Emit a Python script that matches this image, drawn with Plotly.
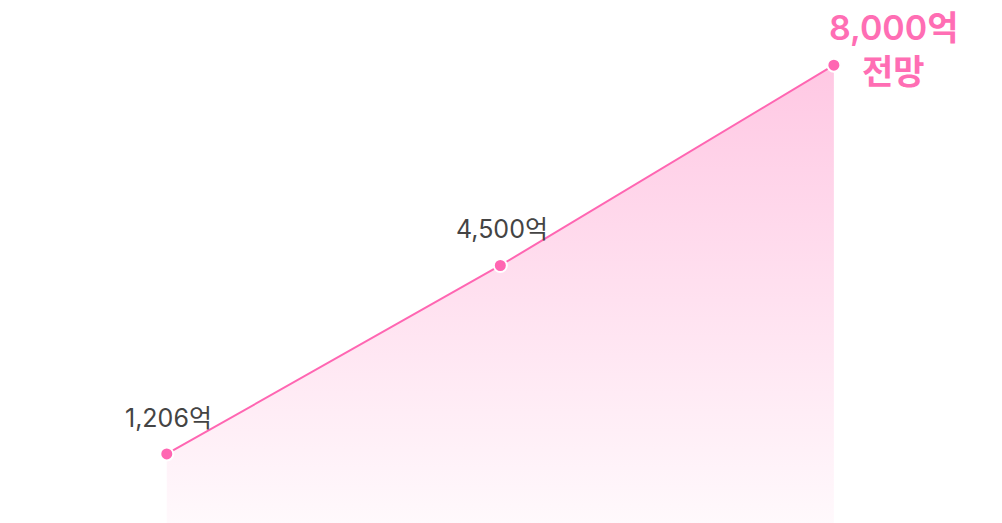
import plotly.graph_objects as go

categories = ["A", "B", "C"]
values = [1206, 4500, 8000]
labels = ["1,206억", "4,500억", "8,000억<br>전망"]

LINE = "#ff66b2"
x = list(range(len(categories)))

fig = go.Figure()
fig.add_trace(go.Scatter(
    x=x, y=values, mode="lines+markers",
    line=dict(color=LINE, width=2),
    marker=dict(size=13, color=LINE, line=dict(color="white", width=2)),
    fill="tozeroy",
    fillgradient=dict(type="vertical",
                      colorscale=[[0, "rgba(255,102,178,0.04)"], [1, "rgba(255,102,178,0.36)"]]),
    hoverinfo="skip",
))

FONT = "Inter, Noto Sans CJK KR"
# gray labels
for i in range(2):
    fig.add_annotation(x=x[i], y=values[i], text=labels[i], showarrow=False,
                       yshift=36, xshift=2, font=dict(family=FONT, size=25, color="#444444"))
# highlighted last label, two lines
lines = labels[2].split("<br>")
for j, (t, ys) in enumerate(zip(lines, [38, -6])):
    fig.add_annotation(x=x[2], y=values[2], text=t, showarrow=False,
                       xanchor="center", xshift=60, yshift=ys,
                       font=dict(family=FONT, size=34, color="#ff6eb4", weight=600))

fig.update_layout(
    width=1002, height=523, margin=dict(l=0, r=0, t=0, b=0),
    paper_bgcolor="white", plot_bgcolor="white", showlegend=False,
    xaxis=dict(range=[-0.476, 2.528], visible=False, fixedrange=True),
    yaxis=dict(range=[-140, 9000], visible=False, fixedrange=True),
)
fig.write_html("out.html", config={"displayModeBar": False})
